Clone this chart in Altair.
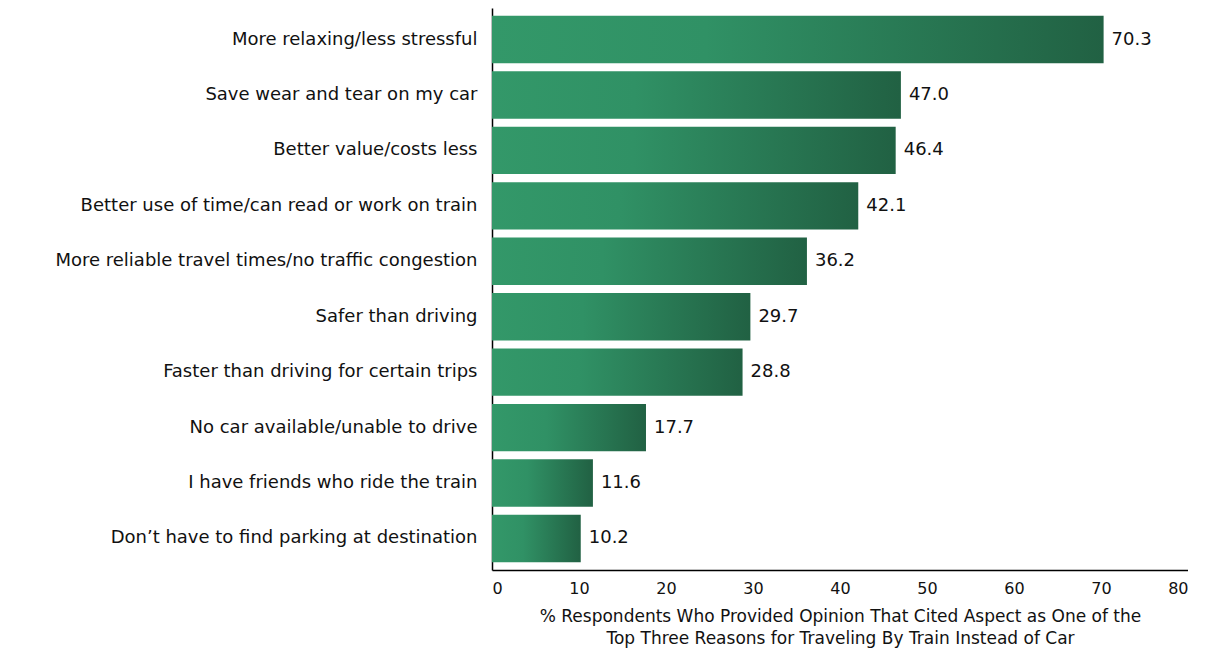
import altair as alt
import pandas as pd

reasons = [
    "More relaxing/less stressful",
    "Save wear and tear on my car",
    "Better value/costs less",
    "Better use of time/can read or work on train",
    "More reliable travel times/no traffic congestion",
    "Safer than driving",
    "Faster than driving for certain trips",
    "No car available/unable to drive",
    "I have friends who ride the train",
    "Don\u2019t have to find parking at destination",
]
values = [70.3, 47.0, 46.4, 42.1, 36.2, 29.7, 28.8, 17.7, 11.6, 10.2]
x_ticks = [0, 10, 20, 30, 40, 50, 60, 70, 80]

df = pd.DataFrame({"reason": reasons, "value": values})
df["label"] = df["value"].map(lambda v: f"{v:.1f}")

FONT = "DejaVu Sans"

grad = alt.Gradient(
    gradient="linear",
    x1=0, x2=1, y1=0, y2=0,
    stops=[
        alt.GradientStop(offset=0, color="#339869"),
        alt.GradientStop(offset=0.35, color="#309165"),
        alt.GradientStop(offset=1, color="#216143"),
    ],
)

y_enc = alt.Y(
    "reason:N",
    sort=reasons,
    scale=alt.Scale(paddingInner=0.146, paddingOuter=0.142),
    axis=alt.Axis(
        title=None, ticks=False, domainColor="#000000", domainWidth=1.5,
        labelFont=FONT, labelFontSize=18, labelColor="#111111",
        labelPadding=15, labelLimit=700,
    ),
)

bars = alt.Chart(df).mark_bar(color=grad).encode(
    x=alt.X(
        "value:Q",
        scale=alt.Scale(domain=[0, 80], nice=False),
        axis=alt.Axis(
            values=x_ticks, ticks=False, grid=False, domainColor="#000000",
            domainWidth=1.5, labelFont=FONT, labelFontSize=16,
            labelColor="#111111", labelPadding=10,
            title=["% Respondents Who Provided Opinion That Cited Aspect as One of the",
                   "Top Three Reasons for Traveling By Train Instead of Car"],
            titleFont=FONT, titleFontSize=17, titleFontWeight="normal",
            titleColor="#111111", titlePadding=12, titleLineHeight=22,
        ),
    ),
    y=y_enc,
)

labels = alt.Chart(df).mark_text(
    align="left", baseline="middle", dx=8, font=FONT, fontSize=18, color="#111111"
).encode(
    x="value:Q",
    y=alt.Y("reason:N", sort=reasons),
    text="label:N",
)

chart = (bars + labels).properties(
    width=696, height=562,
    padding={"left": 46, "top": 0, "right": 0, "bottom": 12},
).configure_view(stroke=None)

chart.save("out.html", embed_options={"renderer": "svg", "actions": False})
